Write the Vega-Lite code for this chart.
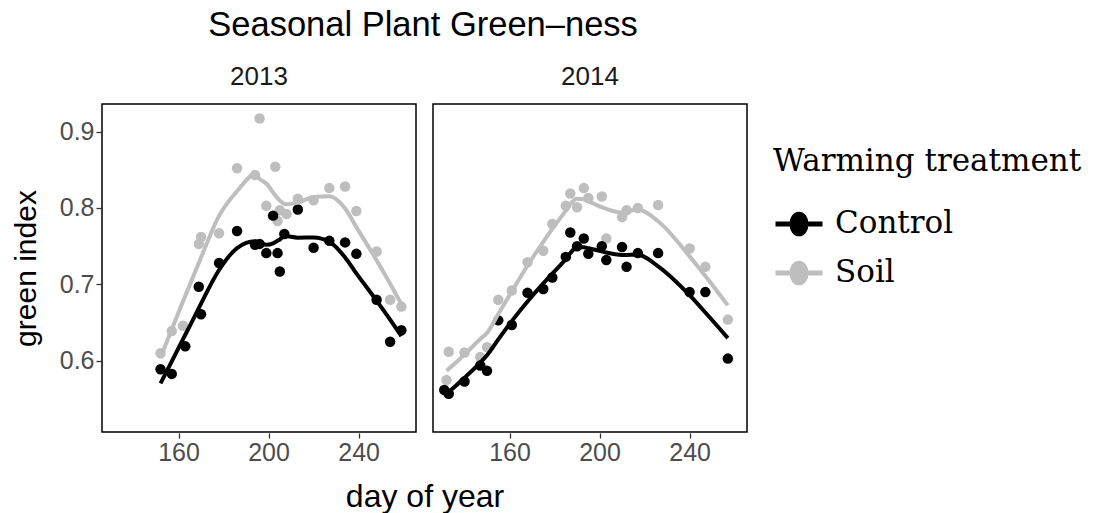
{
  "$schema": "https://vega.github.io/schema/vega-lite/v6.json",
  "background": "white",
  "padding": {"left": 11, "top": 8, "right": 5, "bottom": 2},
  "title": {
    "text": "Seasonal Plant Green–ness",
    "font": "Liberation Sans",
    "fontSize": 34.5,
    "fontWeight": "normal",
    "color": "#000000",
    "anchor": "start",
    "frame": "bounds",
    "dx": 197,
    "offset": 20
  },
  "data": {
    "values": [
      {"year": "2013", "treatment": "Soil", "day": 152, "value": 0.610},
      {"year": "2013", "treatment": "Soil", "day": 157, "value": 0.639},
      {"year": "2013", "treatment": "Soil", "day": 162, "value": 0.646},
      {"year": "2013", "treatment": "Soil", "day": 169, "value": 0.753},
      {"year": "2013", "treatment": "Soil", "day": 170, "value": 0.762},
      {"year": "2013", "treatment": "Soil", "day": 178, "value": 0.767},
      {"year": "2013", "treatment": "Soil", "day": 186, "value": 0.852},
      {"year": "2013", "treatment": "Soil", "day": 194, "value": 0.843},
      {"year": "2013", "treatment": "Soil", "day": 196, "value": 0.917},
      {"year": "2013", "treatment": "Soil", "day": 199, "value": 0.803},
      {"year": "2013", "treatment": "Soil", "day": 203, "value": 0.854},
      {"year": "2013", "treatment": "Soil", "day": 204, "value": 0.783},
      {"year": "2013", "treatment": "Soil", "day": 205, "value": 0.797},
      {"year": "2013", "treatment": "Soil", "day": 208, "value": 0.792},
      {"year": "2013", "treatment": "Soil", "day": 213, "value": 0.812},
      {"year": "2013", "treatment": "Soil", "day": 220, "value": 0.810},
      {"year": "2013", "treatment": "Soil", "day": 227, "value": 0.826},
      {"year": "2013", "treatment": "Soil", "day": 234, "value": 0.828},
      {"year": "2013", "treatment": "Soil", "day": 239, "value": 0.796},
      {"year": "2013", "treatment": "Soil", "day": 248, "value": 0.743},
      {"year": "2013", "treatment": "Soil", "day": 254, "value": 0.680},
      {"year": "2013", "treatment": "Soil", "day": 259, "value": 0.671},

      {"year": "2013", "treatment": "Control", "day": 152, "value": 0.589},
      {"year": "2013", "treatment": "Control", "day": 157, "value": 0.583},
      {"year": "2013", "treatment": "Control", "day": 163, "value": 0.619},
      {"year": "2013", "treatment": "Control", "day": 169, "value": 0.697},
      {"year": "2013", "treatment": "Control", "day": 170, "value": 0.661},
      {"year": "2013", "treatment": "Control", "day": 178, "value": 0.728},
      {"year": "2013", "treatment": "Control", "day": 186, "value": 0.770},
      {"year": "2013", "treatment": "Control", "day": 194, "value": 0.752},
      {"year": "2013", "treatment": "Control", "day": 196, "value": 0.753},
      {"year": "2013", "treatment": "Control", "day": 199, "value": 0.741},
      {"year": "2013", "treatment": "Control", "day": 202, "value": 0.790},
      {"year": "2013", "treatment": "Control", "day": 204, "value": 0.741},
      {"year": "2013", "treatment": "Control", "day": 205, "value": 0.717},
      {"year": "2013", "treatment": "Control", "day": 207, "value": 0.766},
      {"year": "2013", "treatment": "Control", "day": 213, "value": 0.798},
      {"year": "2013", "treatment": "Control", "day": 220, "value": 0.748},
      {"year": "2013", "treatment": "Control", "day": 227, "value": 0.757},
      {"year": "2013", "treatment": "Control", "day": 234, "value": 0.755},
      {"year": "2013", "treatment": "Control", "day": 239, "value": 0.740},
      {"year": "2013", "treatment": "Control", "day": 248, "value": 0.680},
      {"year": "2013", "treatment": "Control", "day": 254, "value": 0.625},
      {"year": "2013", "treatment": "Control", "day": 259, "value": 0.640},

      {"year": "2014", "treatment": "Soil", "day": 132, "value": 0.575},
      {"year": "2014", "treatment": "Soil", "day": 133, "value": 0.612},
      {"year": "2014", "treatment": "Soil", "day": 140, "value": 0.611},
      {"year": "2014", "treatment": "Soil", "day": 147, "value": 0.605},
      {"year": "2014", "treatment": "Soil", "day": 150, "value": 0.618},
      {"year": "2014", "treatment": "Soil", "day": 155, "value": 0.680},
      {"year": "2014", "treatment": "Soil", "day": 161, "value": 0.692},
      {"year": "2014", "treatment": "Soil", "day": 168, "value": 0.729},
      {"year": "2014", "treatment": "Soil", "day": 175, "value": 0.744},
      {"year": "2014", "treatment": "Soil", "day": 179, "value": 0.779},
      {"year": "2014", "treatment": "Soil", "day": 185, "value": 0.803},
      {"year": "2014", "treatment": "Soil", "day": 187, "value": 0.819},
      {"year": "2014", "treatment": "Soil", "day": 190, "value": 0.801},
      {"year": "2014", "treatment": "Soil", "day": 193, "value": 0.826},
      {"year": "2014", "treatment": "Soil", "day": 195, "value": 0.813},
      {"year": "2014", "treatment": "Soil", "day": 201, "value": 0.815},
      {"year": "2014", "treatment": "Soil", "day": 203, "value": 0.760},
      {"year": "2014", "treatment": "Soil", "day": 210, "value": 0.788},
      {"year": "2014", "treatment": "Soil", "day": 212, "value": 0.797},
      {"year": "2014", "treatment": "Soil", "day": 217, "value": 0.800},
      {"year": "2014", "treatment": "Soil", "day": 226, "value": 0.804},
      {"year": "2014", "treatment": "Soil", "day": 240, "value": 0.747},
      {"year": "2014", "treatment": "Soil", "day": 247, "value": 0.723},
      {"year": "2014", "treatment": "Soil", "day": 257, "value": 0.654},

      {"year": "2014", "treatment": "Control", "day": 131, "value": 0.562},
      {"year": "2014", "treatment": "Control", "day": 133, "value": 0.557},
      {"year": "2014", "treatment": "Control", "day": 140, "value": 0.573},
      {"year": "2014", "treatment": "Control", "day": 147, "value": 0.594},
      {"year": "2014", "treatment": "Control", "day": 150, "value": 0.587},
      {"year": "2014", "treatment": "Control", "day": 155, "value": 0.653},
      {"year": "2014", "treatment": "Control", "day": 161, "value": 0.647},
      {"year": "2014", "treatment": "Control", "day": 168, "value": 0.689},
      {"year": "2014", "treatment": "Control", "day": 175, "value": 0.694},
      {"year": "2014", "treatment": "Control", "day": 179, "value": 0.709},
      {"year": "2014", "treatment": "Control", "day": 185, "value": 0.736},
      {"year": "2014", "treatment": "Control", "day": 187, "value": 0.768},
      {"year": "2014", "treatment": "Control", "day": 190, "value": 0.750},
      {"year": "2014", "treatment": "Control", "day": 193, "value": 0.760},
      {"year": "2014", "treatment": "Control", "day": 195, "value": 0.740},
      {"year": "2014", "treatment": "Control", "day": 201, "value": 0.750},
      {"year": "2014", "treatment": "Control", "day": 203, "value": 0.732},
      {"year": "2014", "treatment": "Control", "day": 210, "value": 0.749},
      {"year": "2014", "treatment": "Control", "day": 212, "value": 0.723},
      {"year": "2014", "treatment": "Control", "day": 217, "value": 0.741},
      {"year": "2014", "treatment": "Control", "day": 226, "value": 0.741},
      {"year": "2014", "treatment": "Control", "day": 240, "value": 0.690},
      {"year": "2014", "treatment": "Control", "day": 247, "value": 0.690},
      {"year": "2014", "treatment": "Control", "day": 257, "value": 0.603}
    ]
  },
  "facet": {
    "column": {
      "field": "year",
      "type": "nominal",
      "title": "day of year",
      "header": {
        "titleOrient": "bottom",
        "labelOrient": "top",
        "titleFont": "Liberation Sans",
        "titleFontSize": 32,
        "titleFontWeight": "normal",
        "titleColor": "#000000",
        "titlePadding": 7,
        "labelFont": "Liberation Sans",
        "labelFontSize": 26,
        "labelColor": "#1a1a1a",
        "labelPadding": 13.5
      }
    }
  },
  "spacing": 15,
  "spec": {
    "width": 314,
    "height": 328,
    "encoding": {
      "x": {
        "field": "day",
        "type": "quantitative",
        "title": null,
        "scale": {"domain": [126, 265.5], "nice": false, "zero": false},
        "axis": {"values": [160, 200, 240]}
      },
      "y": {
        "field": "value",
        "type": "quantitative",
        "title": "green index",
        "scale": {"domain": [0.507, 0.936], "nice": false, "zero": false},
        "axis": {"values": [0.6, 0.7, 0.8, 0.9], "format": ".1f"}
      },
      "color": {
        "field": "treatment",
        "type": "nominal",
        "title": "Warming treatment",
        "scale": {"domain": ["Control", "Soil"], "range": ["#000000", "#bebebe"]},
        "legend": {
          "orient": "none",
          "legendX": 671,
          "legendY": 43,
          "titleLimit": 400
        }
      }
    },
    "layer": [
      {
        "mark": {"type": "point", "filled": true, "size": 110, "opacity": 1}
      },
      {
        "transform": [
          {"filter": "datum.year === '2013'"},
          {"loess": "value", "on": "day", "groupby": ["year", "treatment"], "bandwidth": 0.45}
        ],
        "mark": {"type": "line", "strokeWidth": 4, "strokeCap": "butt", "interpolate": "monotone"}
      },
      {
        "transform": [
          {"filter": "datum.year === '2014'"},
          {"loess": "value", "on": "day", "groupby": ["year", "treatment"], "bandwidth": 0.34}
        ],
        "mark": {"type": "line", "strokeWidth": 4, "strokeCap": "butt", "interpolate": "monotone"}
      }
    ]
  },
  "config": {
    "view": {"stroke": "#000000", "strokeWidth": 1.5},
    "axis": {
      "grid": false,
      "domain": false,
      "ticks": true,
      "tickColor": "#333333",
      "tickSize": 5,
      "tickWidth": 1.3,
      "labelFont": "Liberation Sans",
      "labelFontSize": 25,
      "labelColor": "#4d4d4d",
      "labelPadding": 2,
      "titleFont": "Liberation Sans",
      "titleFontSize": 30,
      "titleFontWeight": "normal",
      "titleColor": "#000000"
    },
    "axisY": {"titlePadding": 18},
    "legend": {
      "titleFont": "DejaVu Serif",
      "titleFontSize": 31,
      "titleFontWeight": "normal",
      "titleColor": "#000000",
      "titlePadding": 20,
      "labelFont": "DejaVu Serif",
      "labelFontSize": 31,
      "labelColor": "#000000",
      "labelOffset": 10,
      "rowPadding": 3,
      "symbolType": "M-1,0H1M-0.3,0A0.3,0.42 0 1,0 0.3,0A0.3,0.42 0 1,0 -0.3,0Z",
      "symbolSize": 2209,
      "symbolStrokeWidth": 5,
      "padding": 0
    }
  }
}
